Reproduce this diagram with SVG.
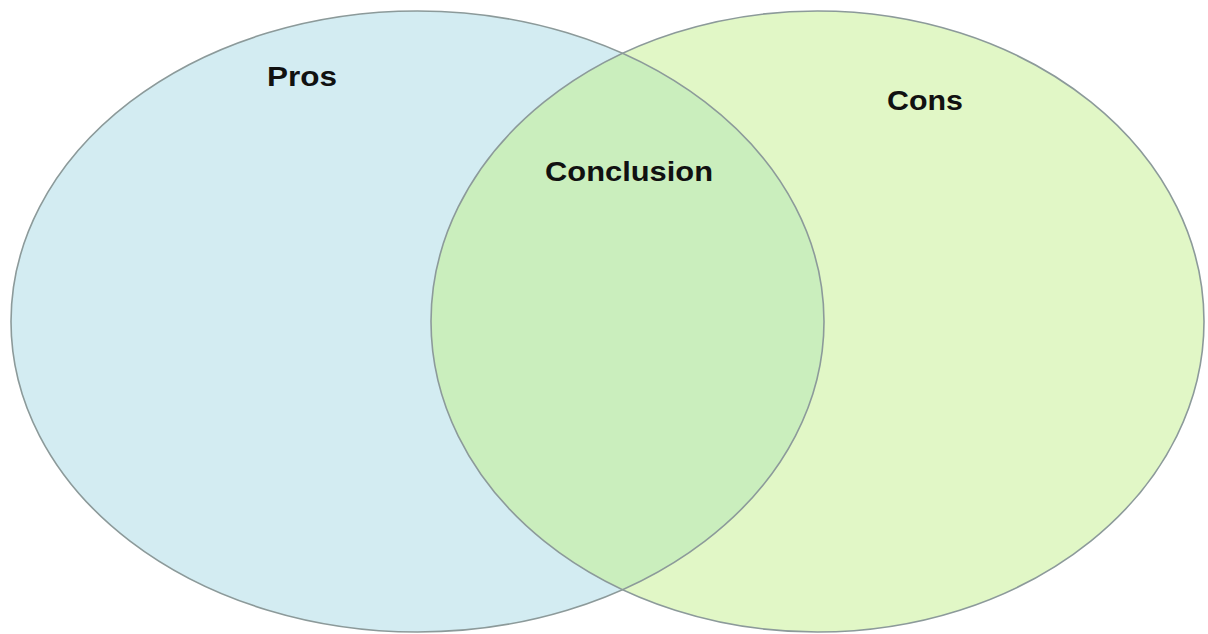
<svg xmlns="http://www.w3.org/2000/svg" width="1208" height="634" viewBox="0 0 1208 634">
<style>
.lbl{font-family:"Liberation Sans",Arial,sans-serif;font-weight:bold;font-size:27.5px;fill:#111}
.edge{fill:none;stroke:#8c9a9a;stroke-width:1.6}
</style>
<defs>
<clipPath id="leftClip"><ellipse cx="417.5" cy="321.5" rx="406.5" ry="310.5"/></clipPath>
</defs>
<rect width="1208" height="634" fill="#ffffff"/>
<g id="pros">
<ellipse cx="417.5" cy="321.5" rx="406.5" ry="310.5" fill="#d3ecf2"/>
</g>
<g id="cons">
<ellipse cx="817.5" cy="321.5" rx="386.5" ry="310.5" fill="#e1f7c6"/>
</g>
<g id="conclusion">
<ellipse cx="817.5" cy="321.5" rx="386.5" ry="310.5" fill="#caeebd" clip-path="url(#leftClip)"/>
</g>
<g id="outlines">
<ellipse class="edge" cx="417.5" cy="321.5" rx="406.5" ry="310.5"/>
<ellipse class="edge" cx="817.5" cy="321.5" rx="386.5" ry="310.5"/>
</g>
<g id="labels">
<text class="lbl" x="267" y="86" textLength="70" lengthAdjust="spacingAndGlyphs">Pros</text>
<text class="lbl" x="545" y="181" textLength="168" lengthAdjust="spacingAndGlyphs">Conclusion</text>
<text class="lbl" x="887" y="110" textLength="76" lengthAdjust="spacingAndGlyphs">Cons</text>
</g>
</svg>
